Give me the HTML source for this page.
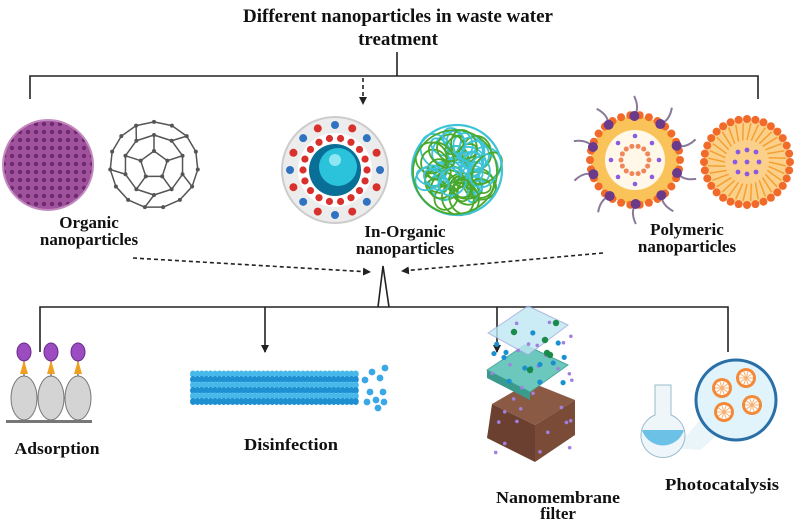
<!DOCTYPE html>
<html><head><meta charset="utf-8"><style>
html,body{margin:0;padding:0;background:#fff;width:796px;height:521px;overflow:hidden}
svg{display:block}
text{font-family:"Liberation Serif",serif;font-weight:bold;fill:#111}
</style></head><body>
<svg id="s" width="796" height="521" viewBox="0 0 796 521" xmlns="http://www.w3.org/2000/svg">
<defs>
<marker id="ah" markerWidth="8" markerHeight="8" refX="7" refY="4" orient="auto" markerUnits="userSpaceOnUse"><path d="M0,0 L8,4 L0,8 Z" fill="#222"/></marker>
<pattern id="pd" width="8" height="8" patternUnits="userSpaceOnUse"><rect width="8" height="8" fill="#a0529c"/><circle cx="4" cy="4" r="2.2" fill="#6e2a70"/></pattern>
</defs>
<text x="398" y="22" font-size="19" text-anchor="middle">Different nanoparticles in waste water</text>
<text x="398" y="45" font-size="19" text-anchor="middle">treatment</text>
<g stroke="#222" stroke-width="1.6" fill="none">
<path d="M397,52 V76 M30,99 V76 H758 V99"/>
<path d="M363,78 V104" stroke-dasharray="4,3" marker-end="url(#ah)"/>
<path d="M133,258 L370,272" stroke-dasharray="4,3" marker-end="url(#ah)"/>
<path d="M603,253 L402,271" stroke-dasharray="4,3" marker-end="url(#ah)"/>
<path d="M378,307 L383,266 L389,307"/>
<path d="M40,352 V307 H728 V352"/>
<path d="M265,307 V352" marker-end="url(#ah)"/>
<path d="M497,307 V352" marker-end="url(#ah)"/>
</g>
<circle cx="48" cy="165" r="45" fill="url(#pd)" stroke="#c48ac0" stroke-width="2"/>
<g id="bucky" stroke="#555" stroke-width="1.5" fill="none"></g>
<circle cx="335" cy="170" r="53" fill="#ececec" stroke="#ccc" stroke-width="2"/>
<circle cx="335" cy="170" r="37" fill="#fff"/>
<g id="ions"></g>
<circle cx="335" cy="170" r="26" fill="#0a6f96"/>
<circle cx="338" cy="167" r="19" fill="#2bc3dc"/>
<circle cx="335" cy="160" r="6" fill="#8ee6f2"/>
<g id="tangle" fill="none" stroke-width="1.8"></g>
<g id="poly"></g>
<text x="89" y="228" font-size="17" text-anchor="middle">Organic</text>
<text x="89" y="245" font-size="17" text-anchor="middle">nanoparticles</text>
<text x="405" y="237" font-size="17" text-anchor="middle">In-Organic</text>
<text x="405" y="254" font-size="17" text-anchor="middle">nanoparticles</text>
<text x="687" y="235" font-size="17" text-anchor="middle">Polymeric</text>
<text x="687" y="252" font-size="17" text-anchor="middle">nanoparticles</text>
<g id="ads"></g>
<rect x="6" y="420" width="86" height="3" fill="#777"/>
<g id="dis"></g>
<g id="mem"></g>
<g id="photo"></g>
<text x="57" y="454" font-size="17" text-anchor="middle" textLength="85" lengthAdjust="spacingAndGlyphs">Adsorption</text>
<text x="291" y="450" font-size="17" text-anchor="middle" textLength="94" lengthAdjust="spacingAndGlyphs">Disinfection</text>
<text x="558" y="503" font-size="17" text-anchor="middle" textLength="124" lengthAdjust="spacingAndGlyphs">Nanomembrane</text>
<text x="558" y="519" font-size="17" text-anchor="middle">filter</text>
<text x="722" y="490" font-size="17" text-anchor="middle" textLength="114" lengthAdjust="spacingAndGlyphs">Photocatalysis</text>
</svg>
<script>
const NS="http://www.w3.org/2000/svg";
function el(p,t,a){const e=document.createElementNS(NS,t);for(const k in a)e.setAttribute(k,a[k]);document.getElementById(p).appendChild(e);return e;}
(function(){const cx=154,cy=165,R=44;let pts=[];
for(let i=0;i<5;i++){const a=-Math.PI/2+i*2*Math.PI/5;pts.push([cx+14*Math.cos(a),cy+14*Math.sin(a)]);}
let ring=[];for(let i=0;i<10;i++){const a=-Math.PI/2+i*Math.PI/5;ring.push([cx+30*Math.cos(a),cy+30*Math.sin(a)]);}
let outer=[];for(let i=0;i<15;i++){const a=-Math.PI/2+i*2*Math.PI/15;outer.push([cx+R*Math.cos(a),cy+R*0.98*Math.sin(a)]);}
const d=[];const ln=(a,b)=>d.push(`M${a[0]},${a[1]}L${b[0]},${b[1]}`);
for(let i=0;i<5;i++){ln(pts[i],pts[(i+1)%5]);ln(pts[i],ring[2*i]);}
for(let i=0;i<10;i++)ln(ring[i],ring[(i+1)%10]);
for(let i=0;i<10;i+=2){ln(ring[i+1],outer[Math.round((i+1)*1.5)%15]);}
for(let i=0;i<15;i++)ln(outer[i],outer[(i+1)%15]);
el("bucky","path",{d:d.join("")});
[...pts,...ring,...outer].forEach(p=>el("bucky","circle",{cx:p[0],cy:p[1],r:2,fill:"#555",stroke:"none"}));})();
(function(){for(let i=0;i<16;i++){const a=i*2*Math.PI/16;el("ions","circle",{cx:335+45*Math.cos(a),cy:170+45*Math.sin(a),r:4,fill:i%2?"#d8302c":"#2f73c0"});}
for(let i=0;i<18;i++){const a=i*2*Math.PI/18;el("ions","circle",{cx:335+32*Math.cos(a),cy:170+32*Math.sin(a),r:3.6,fill:"#d8302c"});}})();
(function(){let s=11;const r=()=>{s=(s*9301+49297)%233280;return s/233280};
for(let i=0;i<55;i++){const a=r()*6.28,d=Math.sqrt(r())*30;const x=457+d*Math.cos(a),y=170+d*Math.sin(a);const rr=7+r()*12;
el("tangle","ellipse",{cx:x,cy:y,rx:rr,ry:rr*(0.6+r()*0.4),transform:`rotate(${r()*180} ${x} ${y})`,stroke:i%2?"#4aa82a":"#3cc3d8"});}
el("tangle","circle",{cx:457,cy:170,r:45,stroke:"#3cc3d8","stroke-width":2.2});
el("tangle","circle",{cx:455,cy:172,r:42,stroke:"#4aa82a"});})();
(function(){const p="poly";
let c=[635,160];for(let i=0;i<10;i++){const a=i*2*Math.PI/10+0.3;el(p,"path",{d:`M${c[0]+44*Math.cos(a)},${c[1]+44*Math.sin(a)} q${10*Math.cos(a+0.6)},${10*Math.sin(a+0.6)} ${20*Math.cos(a)},${20*Math.sin(a)}`,stroke:"#8a7a9a","stroke-width":2,fill:"none"});}
el(p,"circle",{cx:c[0],cy:c[1],r:44,fill:"#f9c35a"});
el(p,"circle",{cx:c[0],cy:c[1],r:30,fill:"#fff8e8"});
for(let i=0;i<30;i++){const a=i*2*Math.PI/30;el(p,"circle",{cx:c[0]+45*Math.cos(a),cy:c[1]+45*Math.sin(a),r:4,fill:"#f26a2a"});}
for(let i=0;i<10;i++){const a=i*2*Math.PI/10+0.3;el(p,"circle",{cx:c[0]+44*Math.cos(a),cy:c[1]+44*Math.sin(a),r:5,fill:"#6b3a8a"});}
for(let i=0;i<14;i++){const a=i*2*Math.PI/14;el(p,"circle",{cx:c[0]+14*Math.cos(a),cy:c[1]+14*Math.sin(a),r:2.5,fill:"#f0845a"});}
for(let i=0;i<8;i++){const a=i*2*Math.PI/8;el(p,"circle",{cx:c[0]+24*Math.cos(a),cy:c[1]+24*Math.sin(a),r:2.3,fill:"#8a5ae0"});}
c=[747,162];el(p,"circle",{cx:c[0],cy:c[1],r:43,fill:"#fbd08a"});
for(let i=0;i<32;i++){const a=i*2*Math.PI/32;el(p,"path",{d:`M${c[0]+22*Math.cos(a)},${c[1]+22*Math.sin(a)} L${c[0]+39*Math.cos(a+0.1)},${c[1]+39*Math.sin(a+0.1)}`,stroke:"#f5a030","stroke-width":1.5});}
for(let i=0;i<32;i++){const a=i*2*Math.PI/32;el(p,"circle",{cx:c[0]+43*Math.cos(a),cy:c[1]+43*Math.sin(a),r:4,fill:"#f26a2a"});}
[[0,0],[-12,0],[12,0],[0,-12],[0,12],[-9,-10],[9,10],[-9,10],[9,-10]].forEach(q=>el(p,"circle",{cx:c[0]+q[0],cy:c[1]+q[1],r:2.4,fill:"#8a5ae0"}));})();
[24,51,78].forEach(x=>{el("ads","ellipse",{cx:x,cy:398,rx:13,ry:22,fill:"#d4d4d4",stroke:"#777"});
el("ads","path",{d:`M${x},376 L${x},360`,stroke:"#777","stroke-width":1.5});
el("ads","path",{d:`M${x-4},374 L${x},360 L${x+4},374Z`,fill:"#f0a020"});
el("ads","ellipse",{cx:x,cy:352,rx:7,ry:9,fill:"#9a4cc0",stroke:"#6a2a8a"});});
(function(){for(let j=0;j<6;j++)for(let i=0;i<38;i++)el("dis","ellipse",{cx:193+i*4.4,cy:374+j*5.5,rx:3,ry:3.5,fill:j%2?"#1e8fd0":"#47b8ea"});
[[365,380],[372,372],[380,378],[370,392],[383,392],[376,400],[385,368],[378,408],[367,402],[384,402]].forEach(p=>el("dis","circle",{cx:p[0],cy:p[1],r:3.4,fill:"#3aa8e6"}));})();
(function(){const p="mem";
el(p,"path",{d:"M492,404 L530,382 L575,400 L535,425 Z",fill:"#8a5a44"});
el(p,"path",{d:"M492,404 L535,425 L535,462 L487,438 Z",fill:"#6b4030"});
el(p,"path",{d:"M535,425 L575,400 L575,435 L535,462Z",fill:"#7a4c38"});
el(p,"path",{d:"M487,370 L525,345 L568,365 L530,392 Z",fill:"#6cc8bc",stroke:"#4aa89c"});
el(p,"path",{d:"M487,370 L530,392 L530,400 L487,378Z",fill:"#3a9a8c"});
el(p,"path",{d:"M488,333 L528,306 L568,325 L528,355 Z",fill:"#bfe8f2",opacity:0.8,stroke:"#9ad"});
let s=3;const r=()=>{s=(s*9301+49297)%233280;return s/233280};
for(let i=0;i<30;i++)el(p,"circle",{cx:490+r()*85,cy:320+r()*140,r:1.8,fill:"#a080e0"});
for(let i=0;i<14;i++)el(p,"circle",{cx:492+r()*75,cy:330+r()*55,r:2.6,fill:"#1a90d0"});
[[514,332],[556,323],[547,353],[550,355],[530,370],[545,340]].forEach(q=>el(p,"circle",{cx:q[0],cy:q[1],r:3.2,fill:"#1a8a4a"}));})();
(function(){const p="photo";
el(p,"path",{d:"M676,448 L700,420 L735,390 L735,420 L700,450Z",fill:"#e4f2f8",opacity:0.8});
el(p,"path",{d:"M655,385 L655,415 A22,22 0 1 0 671,415 L671,385Z",fill:"#eef6fa",stroke:"#9bc"});
el(p,"path",{d:"M642,430 A22,22 0 0 0 684,430Z",fill:"#6cc2e6"});
el(p,"circle",{cx:736,cy:400,r:40,fill:"#e2f4fb",stroke:"#2a6fa8","stroke-width":3});
[[722,388],[746,378],[724,412],[752,405]].forEach(q=>{el(p,"circle",{cx:q[0],cy:q[1],r:10,fill:"#f28a3a"});el(p,"circle",{cx:q[0],cy:q[1],r:7,fill:"#fff"});
for(let i=0;i<10;i++){const a=i*Math.PI/5;el(p,"path",{d:`M${q[0]},${q[1]} L${q[0]+7*Math.cos(a)},${q[1]+7*Math.sin(a)}`,stroke:"#f5b070","stroke-width":1});}});})();
</script>
</body></html>
